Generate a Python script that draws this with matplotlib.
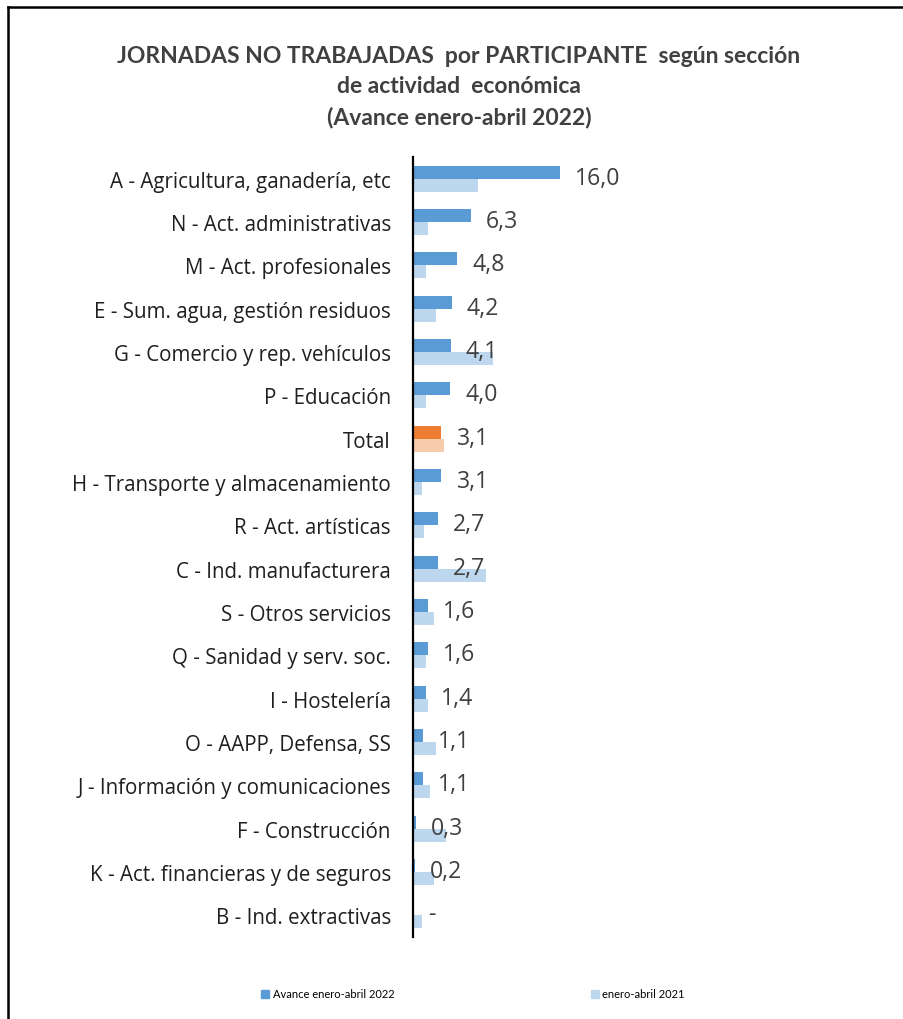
import matplotlib
matplotlib.use("Agg")
import matplotlib.pyplot as plt
from matplotlib.lines import Line2D
from matplotlib.patches import Patch

categories = [
    "A - Agricultura, ganadería, etc",
    "N - Act. administrativas",
    "M - Act. profesionales",
    "E - Sum. agua, gestión residuos",
    "G - Comercio y rep. vehículos",
    "P - Educación",
    "Total",
    "H - Transporte y almacenamiento",
    "R - Act. artísticas",
    "C - Ind. manufacturera",
    "S - Otros servicios",
    "Q - Sanidad y serv. soc.",
    "I - Hostelería",
    "O - AAPP, Defensa, SS",
    "J - Información y comunicaciones",
    "F - Construcción",
    "K - Act. financieras y de seguros",
    "B - Ind. extractivas",
]
values_2022 = [16.0, 6.3, 4.8, 4.2, 4.1, 4.0, 3.1, 3.1, 2.7, 2.7, 1.6, 1.6, 1.4, 1.1, 1.1, 0.3, 0.2, 0.0]
values_2021 = [7.1, 1.6, 1.4, 2.5, 8.7, 1.4, 3.4, 1.0, 1.2, 7.9, 2.3, 1.4, 1.6, 2.5, 1.8, 3.6, 2.3, 1.0]
value_labels = ["16,0", "6,3", "4,8", "4,2", "4,1", "4,0", "3,1", "3,1", "2,7", "2,7",
                "1,6", "1,6", "1,4", "1,1", "1,1", "0,3", "0,2", "-"]
legend_labels = ["Avance enero-abril 2022", "enero-abril 2021"]
title = "JORNADAS NO TRABAJADAS  por PARTICIPANTE  según sección\nde actividad  económica\n(Avance enero-abril 2022)"

C22 = "#5B9BD5"
C21 = "#BDD7EE"
T22 = "#ED7D31"
T21 = "#F8CBAD"
TXT = "#404040"

W, H = 904, 1020
fig = plt.figure(figsize=(W / 100, H / 100), dpi=100)
fig.patch.set_facecolor("white")

ax_left, ax_right = 413, 820
ax_top, ax_bot = 158, 938
ax = fig.add_axes([ax_left / W, 1 - ax_bot / H, (ax_right - ax_left) / W, (ax_bot - ax_top) / H])

n = len(categories)
pos = list(range(n))
px_per_unit = 9.19
xmax = (ax_right - ax_left) / px_per_unit

col22 = [T22 if c == "Total" else C22 for c in categories]
col21 = [T21 if c == "Total" else C21 for c in categories]
h = 0.3
ax.barh([p - h / 2 for p in pos], values_2022, height=h, color=col22, label=legend_labels[0])
ax.barh([p + h / 2 for p in pos], values_2021, height=h, color=col21, label=legend_labels[1])

for p, v, lab in zip(pos, values_2022, value_labels):
    ax.annotate(lab, xy=(v, p - 0.02), xytext=(11, 0), textcoords="offset points",
                ha="left", va="center", fontsize=16.6, color=TXT, family="Open Sans")

ax.set_xlim(0, xmax)
ax.set_ylim(n - 0.5, -0.5)
ax.set_yticks(pos)
ax.set_yticklabels(categories, fontsize=14.8, color="#1f1f1f", family="Open Sans")
ax.tick_params(axis="y", length=0, pad=16)
ax.set_xticks([])
for s in ["top", "right", "bottom"]:
    ax.spines[s].set_visible(False)
ax.spines["left"].set_linewidth(1.6)
ax.spines["left"].set_color("black")

fig.text(459 / W, 1 - 87 / H, title, ha="center", va="center", fontsize=16.5, fontweight="bold",
         color=TXT, family="Lato", linespacing=1.55)

handles = [Patch(color=C22), Patch(color=C21)]
fig.legend(handles, legend_labels, loc="center", bbox_to_anchor=(473 / W, 1 - 995 / H), ncol=2,
           frameon=False, handlelength=0.7, handleheight=0.7, handletextpad=0.3,
           columnspacing=17.7, prop={"family": "Lato", "size": 8})

fig.add_artist(Line2D([8 / W, 1], [1 - 8 / H, 1 - 8 / H], transform=fig.transFigure, color="black", lw=1.8))
fig.add_artist(Line2D([8 / W, 8 / W], [0, 1 - 8 / H], transform=fig.transFigure, color="black", lw=1.8))

fig.savefig("out.png", dpi=100, facecolor="white")
